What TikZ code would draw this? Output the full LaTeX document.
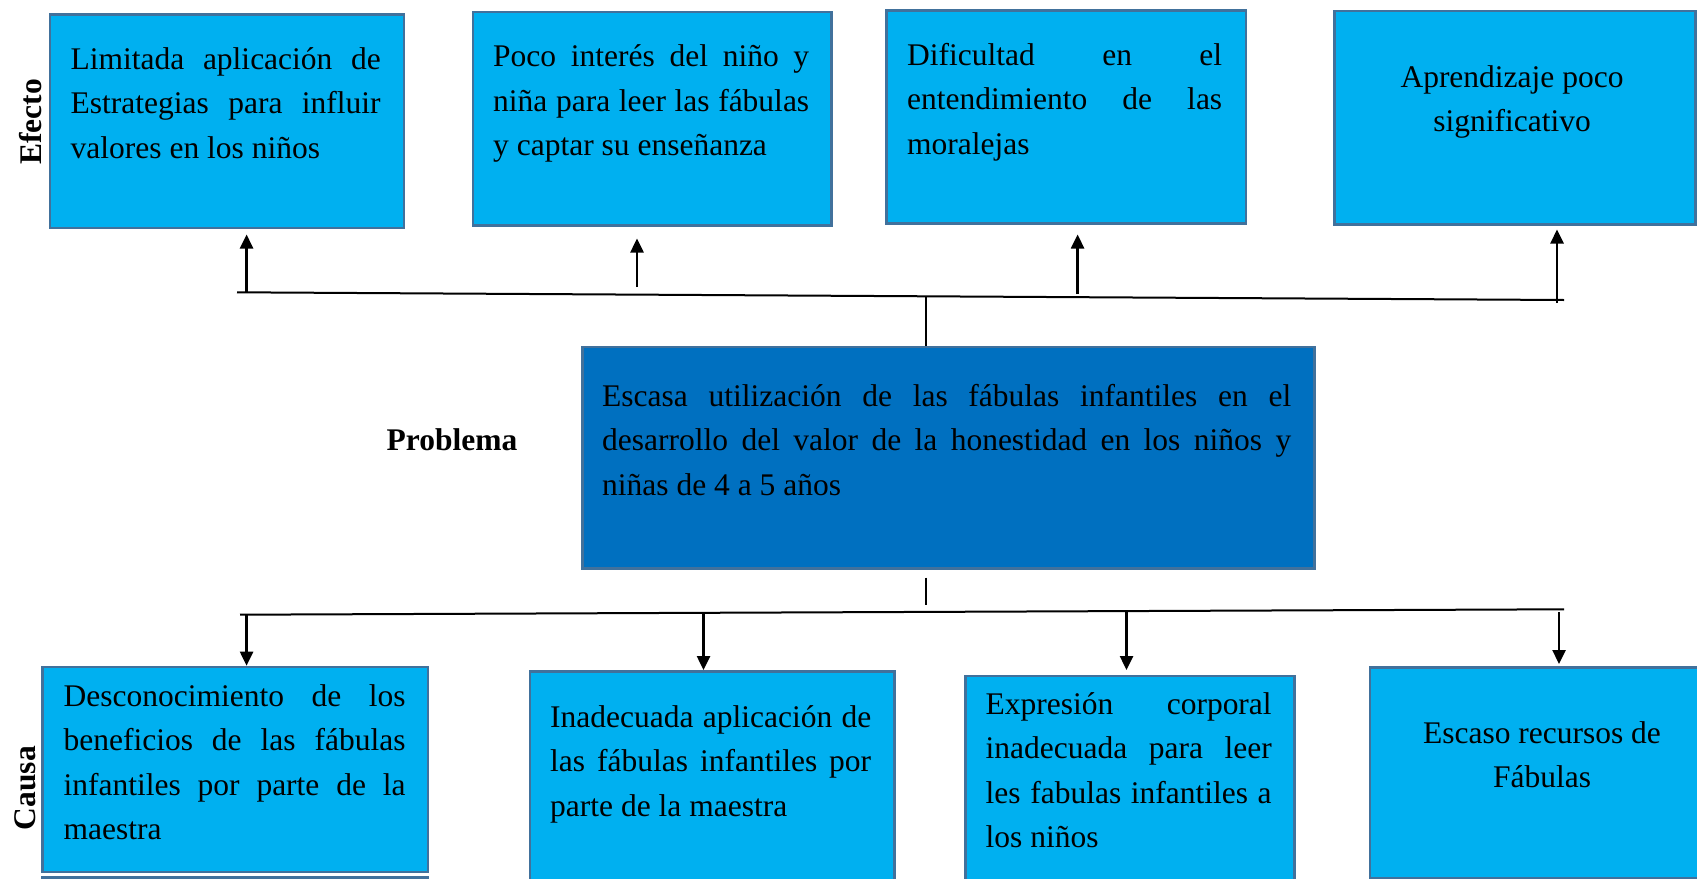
\documentclass[tikz,border=0pt]{standalone}
\usepackage{fontspec}
\setmainfont{Liberation Serif}
\usetikzlibrary{arrows.meta,calc}
\definecolor{boxlight}{HTML}{00B0F0}
\definecolor{boxdark}{HTML}{0070C0}
\definecolor{boxline}{HTML}{41719C}
\newcommand\jline[2]{\makebox[#1pt][s]{#2}}
\begin{document}
\begin{tikzpicture}[x=1pt,y=-1pt,
  box/.style={draw=boxline, line width=2.5pt, fill=boxlight, inner sep=0pt, anchor=north west},
  darkbox/.style={box, fill=boxdark},
  txt/.style={inner sep=0pt, anchor=base west, align=left, font=\fontsize{31.5}{44.5}\selectfont},
  ctxt/.style={inner sep=0pt, anchor=base, align=center, font=\fontsize{31.5}{44.5}\selectfont},
  lbl/.style={inner sep=0pt, font=\fontsize{31.5}{36}\selectfont\bfseries},
  bar/.style={line width=2pt},
  stem/.style={line width=1.5pt},
  arr/.style={line width=2.5pt, -{Triangle[length=14pt,width=13pt]}}]
\clip (0,0) rectangle (1697,878);
\fill[white] (0,0) rectangle (1697,878);

% effect boxes
\node[box, minimum width=353.9pt, minimum height=213.4pt] (e1) at (48.7,13.3) {};
\node[box, minimum width=358.5pt, minimum height=213.6pt] (e2) at (471.5,10.7) {};
\node[box, minimum width=359.6pt, minimum height=213pt] (e3) at (885,9) {};
\node[box, minimum width=361pt, minimum height=213.3pt] (e4) at (1333,9.7) {};
% problem box
\node[darkbox, minimum width=732pt, minimum height=221.3pt] (pb) at (581,345.7) {};
% cause boxes
\node[box, minimum width=385.6pt, minimum height=205pt] (c1) at (41,665.7) {};
\node[box, minimum width=364.5pt, minimum height=240pt] (c2) at (528.5,670) {};
\node[box, minimum width=329pt, minimum height=240pt] (c3) at (964,674.7) {};
\node[box, minimum width=346.3pt, minimum height=211pt] (c4) at (1368.7,666) {};
\draw[boxline, line width=2.5pt] ([yshift=-4.5pt]c1.south west) -- ([yshift=-4.5pt]c1.south east);

% texts (anchor = baseline of the last line)
\node[txt] (e1t) at (70.5,158) {\jline{310}{Limitada aplicación de}\\\jline{310}{Estrategias para influir}\\valores en los niños};
\node[txt] (e2t) at (493,155.7) {\jline{316}{Poco interés del niño y}\\\jline{316}{niña para leer las fábulas}\\y captar su enseñanza};
\node[txt] (e3t) at (907,154) {\jline{315}{Dificultad en el}\\\jline{315}{entendimiento de las}\\moralejas};
\node[ctxt] (e4t) at (1512,131.5) {Aprendizaje poco\\significativo};
\node[txt] (pbt) at (602,495) {\jline{689}{Escasa utilización de las fábulas infantiles en el}\\\jline{689}{desarrollo del valor de la honestidad en los niños y}\\niñas de 4 a 5 años};
\node[txt] (c1t) at (63.4,839.5) {\jline{342}{Desconocimiento de los}\\\jline{342}{beneficios de las fábulas}\\\jline{342}{infantiles por parte de la}\\maestra};
\node[txt] (c2t) at (550,816) {\jline{321}{Inadecuada aplicación de}\\\jline{321}{las fábulas infantiles por}\\parte de la maestra};
\node[txt] (c3t) at (985.5,847.5) {\jline{286}{Expresión corporal}\\\jline{286}{inadecuada para leer}\\\jline{286}{les fabulas infantiles a}\\los niños};
\node[ctxt] (c4t) at (1542,787.5) {Escaso recursos de\\Fábulas};

% labels
\node[lbl, rotate=90] (efecto) at (31,122) {Efecto};
\node[lbl, rotate=90] (causa) at (25,788) {Causa};
\node[lbl, anchor=base] (problema) at (452,450) {Problema};

% top bar and arrows
\coordinate (tL) at (237,292.3);
\coordinate (tR) at (1564,300);
\coordinate (tM) at (926,296.3);
\draw[bar] (tL) -- (tR);
\draw[stem] (tM) -- (tM |- pb.north);
\coordinate (a1) at (246.6,292.3);
\coordinate (a2) at (637,287);
\coordinate (a3) at (1077.6,294);
\coordinate (a4) at (1557,303);
\draw[arr, shorten >=5.3pt] (a1) -- (a1 |- e1.south);
\draw[arr, shorten >=11.7pt] (a2) -- (a2 |- e2.south);
\draw[arr, shorten >=10pt] (a3) -- (a3 |- e3.south);
\draw[arr, shorten >=4pt] (a4) -- (a4 |- e4.south);

% bottom bar and arrows
\coordinate (bL) at (240,614.7);
\coordinate (bR) at (1564,609.3);
\coordinate (bM) at (926,605);
\draw[bar] (bL) -- (bR);
\draw[stem, shorten <=8pt] (bM |- pb.south) -- (bM);
\coordinate (d1) at (246.6,614.7);
\coordinate (d2) at (703.5,612.9);
\coordinate (d3) at (1126.5,612);
\coordinate (d4) at (1559,612.3);
\draw[arr] (d1) -- (d1 |- c1.north);
\draw[arr] (d2) -- (d2 |- c2.north);
\draw[arr, shorten >=4.7pt] (d3) -- (d3 |- c3.north);
\draw[arr, shorten >=2pt] (d4) -- (d4 |- c4.north);
\end{tikzpicture}
\end{document}
